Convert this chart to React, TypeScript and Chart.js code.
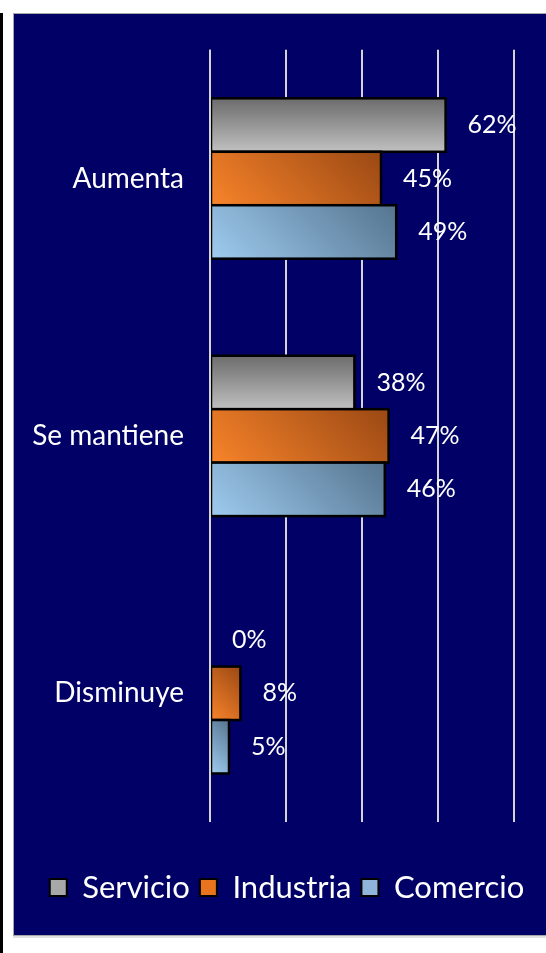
import React, { useEffect, useRef } from "react";
import { Chart, registerables } from "chart.js";

Chart.register(...registerables);

const categories = ["Aumenta", "Se mantiene", "Disminuye"];
const seriesNames = ["Servicio", "Industria", "Comercio"];
const servicio = [62, 38, 0];
const industria = [45, 47, 8];
const comercio = [49, 46, 5];

const FONT = "Lato, 'Open Sans', sans-serif";

const solidColors = ["#a8a8a8", "#e8741e", "#8fb6da"];

function makeGradient(ctx: CanvasRenderingContext2D, ds: number, l: number, t: number, r: number, b: number) {
  if (ds === 0) {
    const g = ctx.createLinearGradient(0, t, 0, b);
    g.addColorStop(0, "#6c6c6c");
    g.addColorStop(1, "#c0c0c0");
    return g;
  }
  const d = (r - l + (b - t)) / 2;
  const g = ctx.createLinearGradient(l, b, l + d, b - d);
  if (ds === 1) {
    g.addColorStop(0, "#f8842a");
    g.addColorStop(1, "#9a4814");
  } else {
    g.addColorStop(0, "#9ecbef");
    g.addColorStop(1, "#55748f");
  }
  return g;
}

const barStylePlugin = {
  id: "barStyle",
  afterDatasetsDraw(chart: any) {
    const ctx: CanvasRenderingContext2D = chart.ctx;
    ctx.save();
    chart.data.datasets.forEach((_ds: any, di: number) => {
      const meta = chart.getDatasetMeta(di);
      meta.data.forEach((el: any) => {
        const l = Math.min(el.base, el.x);
        const r = Math.max(el.base, el.x);
        const t = el.y - el.height / 2;
        const b = el.y + el.height / 2;
        if (r - l < 0.5) return;
        ctx.fillStyle = makeGradient(ctx, di, l, t, r, b);
        ctx.fillRect(l, t, r - l, b - t);
        ctx.strokeStyle = "#000000";
        ctx.lineWidth = 2.5;
        ctx.strokeRect(l, t, r - l, b - t);
      });
    });
    const xs = chart.scales.x;
    const x0 = xs.getPixelForValue(0);
    ctx.strokeStyle = "#d4d4d4";
    ctx.lineWidth = 2;
    ctx.beginPath();
    ctx.moveTo(x0, chart.chartArea.top);
    ctx.lineTo(x0, chart.chartArea.bottom);
    ctx.stroke();
    ctx.fillStyle = "#ffffff";
    ctx.font = `25px ${FONT}`;
    ctx.textAlign = "left";
    ctx.textBaseline = "middle";
    chart.data.datasets.forEach((ds: any, di: number) => {
      const meta = chart.getDatasetMeta(di);
      meta.data.forEach((el: any, i: number) => {
        ctx.fillText(`${ds.data[i]}%`, el.x + 22, el.y);
      });
    });
    ctx.restore();
  },
};

export default function App() {
  const ref = useRef<HTMLCanvasElement>(null);
  useEffect(() => {
    if (!ref.current) return;
    const chart = new Chart(ref.current, {
      type: "bar",
      data: {
        labels: categories,
        datasets: [
          { label: seriesNames[0], data: servicio, backgroundColor: solidColors[0] },
          { label: seriesNames[1], data: industria, backgroundColor: solidColors[1] },
          { label: seriesNames[2], data: comercio, backgroundColor: solidColors[2] },
        ],
      },
      options: {
        indexAxis: "y",
        animation: false,
        responsive: false,
        maintainAspectRatio: false,
        events: [],
        categoryPercentage: 0.623,
        barPercentage: 1,
        layout: { padding: { top: 31, right: 0, bottom: 22, left: 0 } },
        scales: {
          x: {
            min: 0,
            max: 80,
            ticks: { display: false, stepSize: 20 },
            grid: { color: "#d4d4d4", lineWidth: 2, drawTicks: false },
            border: { display: false },
            afterFit: (s: any) => {
              s.height = 40;
            },
          },
          y: {
            ticks: { color: "#ffffff", font: { family: FONT, size: 28 }, padding: 26 },
            grid: { display: false, drawTicks: false },
            border: { display: false },
            afterFit: (s: any) => {
              s.width = 196;
            },
          },
          yRight: {
            type: "category",
            position: "right",
            labels: categories,
            ticks: { display: false },
            grid: { display: false, drawTicks: false },
            border: { display: false },
            afterFit: (s: any) => {
              s.width = 46;
            },
          },
        },
        plugins: {
          tooltip: { enabled: false },
          legend: {
            position: "bottom",
            labels: {
              color: "#ffffff",
              font: { family: FONT, size: 31 },
              boxWidth: 17,
              boxHeight: 17,
              padding: 10,
              generateLabels: () =>
                seriesNames.map((n, i) => ({
                  text: n,
                  fillStyle: solidColors[i],
                  strokeStyle: "#000000",
                  lineWidth: 2,
                  hidden: false,
                  datasetIndex: i,
                  fontColor: "#ffffff",
                })),
            },
          },
        },
      },
      plugins: [barStylePlugin],
    });
    return () => chart.destroy();
  }, []);

  return (
    <div style={{ position: "absolute", left: 0, top: 0, width: 546, height: 953, overflow: "hidden", background: "#ffffff" }}>
      <div style={{ position: "absolute", left: 0, top: 13, width: 3, height: 940, background: "#000000" }} />
      <div
        style={{
          position: "absolute",
          left: 13,
          top: 13,
          width: 560,
          height: 923,
          boxSizing: "border-box",
          border: "1px solid #a6a6a6",
          background: "#000066",
          boxShadow: "0 2px 0 #e0e0e0",
          overflow: "hidden",
        }}
      >
        <canvas
          ref={ref}
          width={546}
          height={928}
          style={{ position: "absolute", left: 0, top: -7, display: "block", width: 546, height: 928 }}
        />
      </div>
    </div>
  );
}
